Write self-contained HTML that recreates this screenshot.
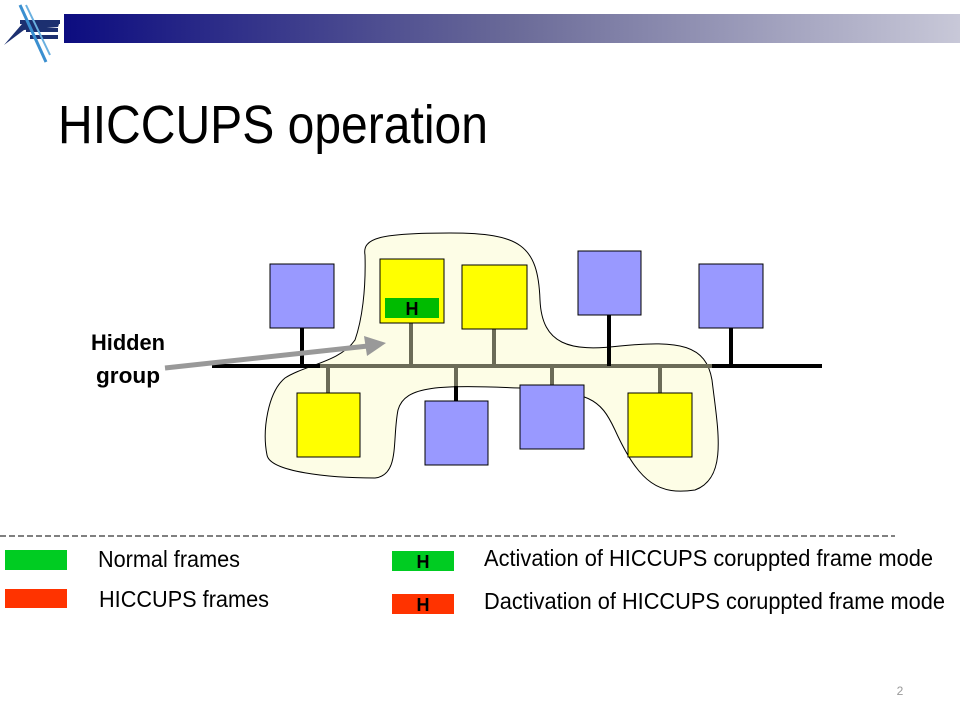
<!DOCTYPE html>
<html><head><meta charset="utf-8"><style>
html,body{margin:0;padding:0;background:#fff;}
svg{display:block;}
text{font-family:"Liberation Sans",sans-serif;}
</style></head><body>
<svg width="960" height="720" viewBox="0 0 960 720" xmlns="http://www.w3.org/2000/svg">
<defs>
<linearGradient id="g" x1="0" x2="1" y1="0" y2="0">
<stop offset="0" stop-color="#0c0c80"/>
<stop offset="0.5" stop-color="#6a6a98"/>
<stop offset="1" stop-color="#c8c8d8"/>
</linearGradient>
</defs>
<rect x="64" y="14" width="896" height="29" fill="url(#g)"/>
<!-- logo -->
<polygon points="4,45 22,24 60,21 58,27 24,30" fill="#1c3070"/>
<rect x="20" y="20" width="40" height="4" fill="#1c3070"/>
<rect x="26" y="28" width="32" height="4" fill="#1c3070"/>
<rect x="30" y="35" width="28" height="4" fill="#1c3070"/>
<line x1="20" y1="5" x2="46" y2="62" stroke="#3a8fd0" stroke-width="3"/>
<line x1="26" y1="5" x2="50" y2="55" stroke="#6ab0e0" stroke-width="2"/>

<text x="58" y="143" font-size="54" textLength="430" lengthAdjust="spacingAndGlyphs">HICCUPS operation</text>

<!-- group blob -->
<path d="M365,255 C362,238 380,233 450,233 C520,233 538,245 540,300 C542,345 570,352 620,346 C680,340 706,345 712,380 C718,430 728,478 695,490 C660,495 640,485 615,430 C600,398 590,392 520,388 C440,385 405,385 398,410 C392,440 400,475 375,478 C330,478 270,472 267,455 C262,430 268,392 285,378 C305,365 340,362 355,340 C362,320 366,290 365,255 Z" fill="#fdfde6" stroke="#000" stroke-width="1"/>

<!-- bus -->
<line x1="212" y1="366" x2="822" y2="366" stroke="#000" stroke-width="4"/>
<line x1="320" y1="366" x2="712" y2="366" stroke="#6b6b58" stroke-width="4"/>

<!-- stems -->
<g stroke-width="4">
<line x1="302" y1="328" x2="302" y2="366" stroke="#000"/>
<line x1="411" y1="323" x2="411" y2="366" stroke="#6b6b58"/>
<line x1="494" y1="329" x2="494" y2="366" stroke="#6b6b58"/>
<line x1="609" y1="315" x2="609" y2="366" stroke="#000"/>
<line x1="731" y1="328" x2="731" y2="366" stroke="#000"/>
<line x1="328" y1="366" x2="328" y2="393" stroke="#6b6b58"/>
<line x1="456" y1="366" x2="456" y2="401" stroke="#000"/>
<line x1="456" y1="366" x2="456" y2="386" stroke="#6b6b58"/>
<line x1="552" y1="366" x2="552" y2="385" stroke="#6b6b58"/>
<line x1="660" y1="366" x2="660" y2="393" stroke="#6b6b58"/>
</g>

<!-- boxes -->
<g stroke="#000" stroke-width="1">
<rect x="270" y="264" width="64" height="64" fill="#9999ff"/>
<rect x="380" y="259" width="64" height="64" fill="#ffff00"/>
<rect x="462" y="265" width="65" height="64" fill="#ffff00"/>
<rect x="578" y="251" width="63" height="64" fill="#9999ff"/>
<rect x="699" y="264" width="64" height="64" fill="#9999ff"/>
<rect x="297" y="393" width="63" height="64" fill="#ffff00"/>
<rect x="425" y="401" width="63" height="64" fill="#9999ff"/>
<rect x="520" y="385" width="64" height="64" fill="#9999ff"/>
<rect x="628" y="393" width="64" height="64" fill="#ffff00"/>
</g>
<rect x="385" y="298" width="54" height="20" fill="#00bb00"/>
<text x="412" y="315" font-size="18" font-weight="bold" text-anchor="middle">H</text>

<!-- arrow -->
<line x1="165" y1="368" x2="368" y2="346" stroke="#999" stroke-width="5"/>
<polygon points="386,343 364,336 367,356" fill="#999"/>
<text x="128" y="350" font-size="22" font-weight="bold" text-anchor="middle" textLength="74" lengthAdjust="spacingAndGlyphs">Hidden</text>
<text x="128" y="383" font-size="22" font-weight="bold" text-anchor="middle" textLength="64" lengthAdjust="spacingAndGlyphs">group</text>

<!-- legend -->
<line x1="0" y1="536" x2="895" y2="536" stroke="#000" stroke-width="1" stroke-dasharray="6,3"/>
<rect x="5" y="550" width="62" height="20" fill="#00cc22"/>
<rect x="5" y="589" width="62" height="19" fill="#ff3300"/>
<text x="98" y="567" font-size="23" textLength="142" lengthAdjust="spacingAndGlyphs">Normal frames</text>
<text x="99" y="607" font-size="23" textLength="170" lengthAdjust="spacingAndGlyphs">HICCUPS frames</text>
<rect x="392" y="551" width="62" height="20" fill="#00cc22"/>
<text x="423" y="568" font-size="18" font-weight="bold" text-anchor="middle">H</text>
<rect x="392" y="594" width="62" height="20" fill="#ff3300"/>
<text x="423" y="611" font-size="18" font-weight="bold" text-anchor="middle">H</text>
<text x="484" y="566" font-size="23" textLength="449" lengthAdjust="spacingAndGlyphs">Activation of HICCUPS coruppted frame mode</text>
<text x="484" y="609" font-size="23" textLength="461" lengthAdjust="spacingAndGlyphs">Dactivation of HICCUPS coruppted frame mode</text>

<text x="900" y="695" font-size="12" fill="#999" text-anchor="middle">2</text>
</svg>
</body></html>
